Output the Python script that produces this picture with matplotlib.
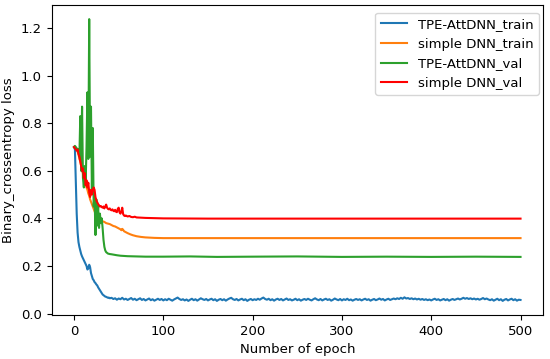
import numpy as np
import matplotlib
matplotlib.use("Agg")
import matplotlib.pyplot as plt

# ---------------- data ----------------
# TPE-AttDNN_train
blue_head_ep = list(range(0, 41))
blue_head = [0.700, 0.690, 0.560, 0.420, 0.340, 0.300, 0.280, 0.265, 0.250, 0.240,
             0.232, 0.225, 0.215, 0.208, 0.200, 0.185, 0.190, 0.205, 0.195, 0.170,
             0.158, 0.145, 0.140, 0.132, 0.128, 0.122, 0.118, 0.110, 0.104, 0.098,
             0.092, 0.086, 0.080, 0.077, 0.074, 0.071, 0.070, 0.068, 0.066, 0.067,
             0.064]
blue_tail_ep = list(range(42, 501, 2))
blue_tail = [0.066, 0.061, 0.064, 0.058, 0.063, 0.060, 0.066, 0.059, 0.062, 0.057,
             0.061, 0.065, 0.058, 0.062, 0.056, 0.060, 0.064, 0.057, 0.061, 0.055,
             0.059, 0.063, 0.056, 0.060, 0.054, 0.058, 0.062, 0.057, 0.061, 0.055,
             0.060, 0.056, 0.062, 0.058, 0.054, 0.059, 0.063, 0.067, 0.061, 0.057,
             0.060, 0.055, 0.059, 0.053, 0.058, 0.062, 0.056, 0.060, 0.054, 0.059,
             0.064, 0.060, 0.057, 0.061, 0.055, 0.059, 0.062, 0.056, 0.060, 0.053,
             0.058, 0.061, 0.056, 0.060, 0.054, 0.059, 0.063, 0.066, 0.060, 0.057,
             0.061, 0.055, 0.059, 0.062, 0.056, 0.060, 0.053, 0.058, 0.061, 0.056,
             0.060, 0.057, 0.062, 0.058, 0.063, 0.067, 0.061, 0.058, 0.062, 0.056,
             0.060, 0.054, 0.059, 0.062, 0.057, 0.061, 0.055, 0.059, 0.063, 0.057,
             0.060, 0.055, 0.058, 0.062, 0.056, 0.060, 0.054, 0.058, 0.061, 0.057,
             0.062, 0.058, 0.055, 0.060, 0.064, 0.059, 0.056, 0.061, 0.055, 0.059,
             0.062, 0.057, 0.060, 0.054, 0.058, 0.063, 0.059, 0.056, 0.061, 0.055,
             0.060, 0.057, 0.062, 0.056, 0.059, 0.054, 0.058, 0.061, 0.057, 0.060,
             0.055, 0.059, 0.062, 0.057, 0.060, 0.054, 0.058, 0.061, 0.056, 0.059,
             0.063, 0.058, 0.061, 0.055, 0.059, 0.062, 0.057, 0.060, 0.063, 0.060,
             0.064, 0.061, 0.066, 0.062, 0.068, 0.063, 0.065, 0.061, 0.064, 0.060,
             0.063, 0.059, 0.062, 0.058, 0.061, 0.057, 0.060, 0.056, 0.059, 0.055,
             0.059, 0.062, 0.057, 0.060, 0.055, 0.058, 0.061, 0.056, 0.060, 0.054,
             0.058, 0.061, 0.057, 0.060, 0.063, 0.059, 0.062, 0.066, 0.062, 0.065,
             0.061, 0.064, 0.060, 0.063, 0.059, 0.062, 0.058, 0.061, 0.065, 0.060,
             0.063, 0.059, 0.056, 0.060, 0.054, 0.058, 0.062, 0.056, 0.060, 0.053,
             0.058, 0.061, 0.055, 0.059, 0.062, 0.056, 0.060, 0.054, 0.058, 0.057]

# simple DNN_train
orange_ep = list(range(0, 31)) + [32, 34, 36, 38, 40, 42, 44, 46, 48, 50, 52, 53, 54,
                                   55, 56, 58, 60, 63, 66, 70, 75, 80, 90, 100, 150,
                                   200, 300, 400, 500]
orange = [0.700, 0.700, 0.695, 0.690, 0.680, 0.670, 0.650, 0.640, 0.620, 0.600,
          0.590, 0.570, 0.560, 0.540, 0.530, 0.520, 0.505, 0.495, 0.480, 0.470,
          0.460, 0.450, 0.440, 0.430, 0.420, 0.410, 0.405, 0.400, 0.396, 0.392,
          0.390, 0.388, 0.385, 0.380, 0.378, 0.376, 0.372, 0.368, 0.366, 0.362,
          0.358, 0.354, 0.350, 0.356, 0.352, 0.346, 0.342, 0.338, 0.333, 0.329,
          0.325, 0.322, 0.320, 0.318, 0.317, 0.317, 0.317, 0.317, 0.317, 0.317]

# TPE-AttDNN_val
green_ep = list(range(0, 39)) + [40, 42, 45, 48, 52, 56, 60, 70, 80, 100, 130, 160,
                                  200, 250, 300, 350, 400, 450, 500]
green = [0.700, 0.705, 0.700, 0.695, 0.690, 0.690, 0.660, 0.830, 0.600, 0.870,
         0.570, 0.530, 0.620, 0.550, 0.700, 0.930, 0.650, 1.238, 0.660, 0.870,
         0.520, 0.780, 0.450, 0.500, 0.330, 0.480, 0.370, 0.450, 0.360, 0.420,
         0.380, 0.400, 0.360, 0.310, 0.280, 0.265, 0.258, 0.255, 0.252,
         0.250, 0.249, 0.247, 0.245, 0.243, 0.242, 0.241, 0.240, 0.239, 0.239,
         0.240, 0.238, 0.239, 0.240, 0.238, 0.239, 0.238, 0.239, 0.238]

# simple DNN_val
red_ep = list(range(0, 59)) + [60, 62, 64, 66, 68, 70, 75, 80, 90, 100, 150, 200,
                                300, 400, 500]
red = [0.700, 0.695, 0.690, 0.685, 0.690, 0.670, 0.660, 0.640, 0.620, 0.600,
       0.610, 0.570, 0.590, 0.540, 0.560, 0.530, 0.550, 0.510, 0.490, 0.520,
       0.500, 0.520, 0.530, 0.520, 0.490, 0.475, 0.468, 0.460, 0.455, 0.450,
       0.452, 0.448, 0.445, 0.450, 0.442, 0.450, 0.458, 0.445, 0.440, 0.438,
       0.442, 0.436, 0.434, 0.438, 0.432, 0.430, 0.436, 0.428, 0.426, 0.440,
       0.445, 0.425, 0.420, 0.428, 0.445, 0.418, 0.412, 0.410, 0.412,
       0.408, 0.410, 0.406, 0.405, 0.407, 0.404, 0.403, 0.402, 0.401, 0.400,
       0.399, 0.399, 0.399, 0.399, 0.399]

labels = ["TPE-AttDNN_train", "simple DNN_train", "TPE-AttDNN_val", "simple DNN_val"]

# ---------------- plot ----------------
fs = 9.5
plt.rcParams["font.size"] = fs
fig = plt.figure(figsize=(5.5, 3.59), dpi=100)
ax = fig.add_axes([0.094, 0.1226, 0.893, 0.8634])

ax.plot(blue_head_ep + blue_tail_ep, blue_head + blue_tail, color="#1f77b4", lw=1.5, label=labels[0])
ax.plot(orange_ep, orange, color="#ff7f0e", lw=1.5, label=labels[1])
ax.plot(green_ep, green, color="#2ca02c", lw=1.5, label=labels[2])
ax.plot(red_ep, red, color="#ff0000", lw=1.5, label=labels[3])

ax.set_xlabel("Number of epoch", fontsize=fs)
ax.set_ylabel("Binary_crossentropy loss", fontsize=fs)
ax.set_xticks([0, 100, 200, 300, 400, 500])
ax.set_yticks([0.0, 0.2, 0.4, 0.6, 0.8, 1.0, 1.2])
ax.tick_params(labelsize=fs)
ax.legend(loc="upper right", fontsize=fs, bbox_to_anchor=(538.5 / 550, 1 - 12.7 / 359),
          bbox_transform=fig.transFigure, borderaxespad=0)

fig.savefig("out.png", dpi=100)
